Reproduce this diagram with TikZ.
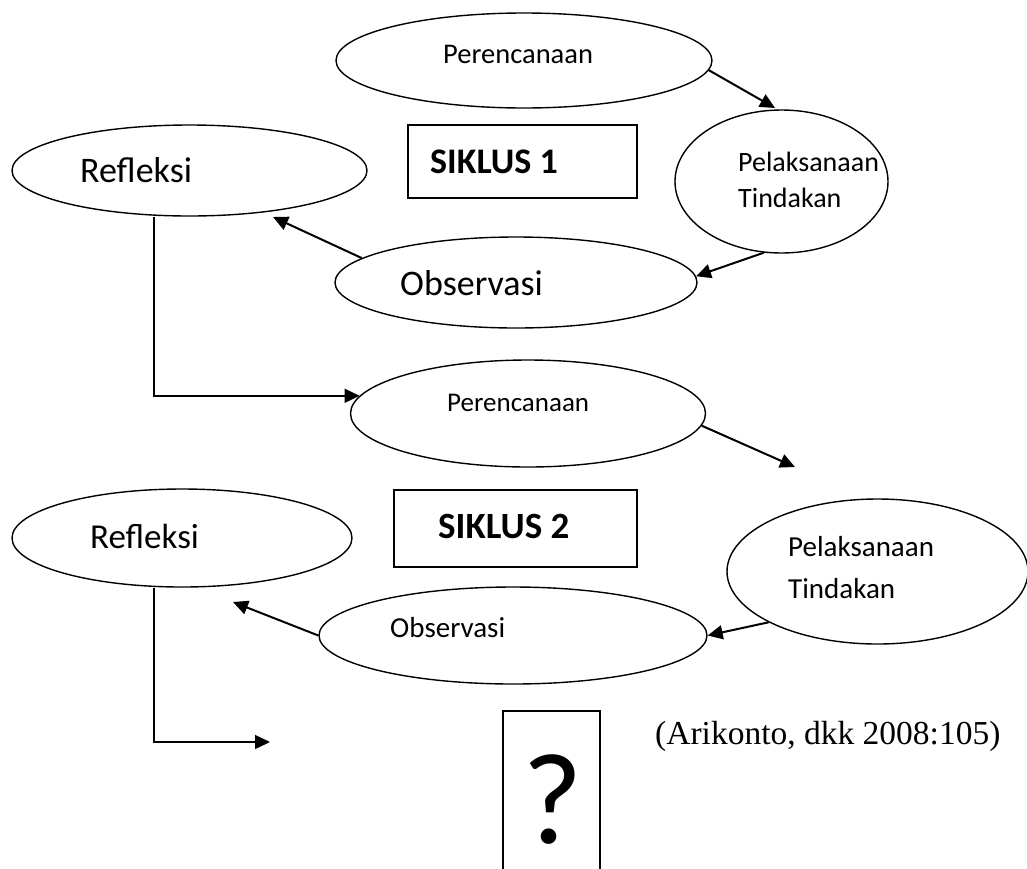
\documentclass[tikz,border=0pt]{standalone}
\usepackage{fontspec}
\setmainfont{Carlito}
\newfontfamily\citefont{Liberation Serif}
\usetikzlibrary{shapes.geometric,arrows.meta,calc}
\begin{document}
\begin{tikzpicture}[x=1pt,y=-1pt,
  oval/.style={draw,ellipse,line width=1.4pt,inner sep=0pt},
  box/.style={draw,rectangle,line width=1.4pt,inner sep=0pt},
  lbl/.style={anchor=base west,inner sep=0pt},
  arr/.style={line width=2pt,-{Triangle[length=15pt,width=14pt]}},
  elbow/.style={line width=1.4pt,-{Triangle[length=15pt,width=14pt]}},
]
\useasboundingbox (0,0) rectangle (1027,868);
\fill[white] (0,0) rectangle (1027,868);
\clip (0,0) rectangle (1027,868);

% ellipses
\node[oval,minimum width=376pt,minimum height=95pt] (per1) at (524,60.5) {};
\node[oval,minimum width=355pt,minimum height=91pt] (ref1) at (189.5,170.5) {};
\node[oval,minimum width=362pt,minimum height=91pt] (obs1) at (516,282.5) {};
\node[oval,minimum width=213pt,minimum height=143pt] (pel1) at (781.5,181.5) {};
\node[oval,minimum width=355pt,minimum height=107pt] (per2) at (528,413.5) {};
\node[oval,minimum width=301pt,minimum height=145pt] (pel2) at (877.5,571.5) {};
\node[oval,minimum width=388pt,minimum height=97pt] (obs2) at (513,635.5) {};
\node[oval,minimum width=340pt,minimum height=98pt] (ref2) at (182,538) {};

% boxes
\node[box,minimum width=229pt,minimum height=73pt] (s1) at (522.5,161.5) {};
\node[box,minimum width=243pt,minimum height=77pt] (s2) at (515.5,528.5) {};
\node[box,minimum width=97pt,minimum height=179pt] (qb) at (551.5,800.5) {};

% texts
\node[lbl,font=\fontsize{28.5}{34}\selectfont] (tper1) at (443,63.3) {Perencanaan};
\node[lbl,font=\fontsize{36}{42}\selectfont] (tref1) at (80,182.7) {Refleksi};
\node[lbl,font=\bfseries\fontsize{36}{42}\selectfont] (ts1) at (430,173.3) {SIKLUS 1};
\node[lbl,font=\fontsize{28}{34}\selectfont] (tpel1a) at (738,171.7) {Pelaksanaan};
\node[lbl,font=\fontsize{28}{34}\selectfont] (tpel1b) at (738,207) {Tindakan};
\node[lbl,font=\fontsize{36}{42}\selectfont] (tobs1) at (400,295) {Observasi};
\node[lbl,font=\fontsize{27}{32}\selectfont] (tper2) at (447,411.7) {Perencanaan};
\node[lbl,font=\bfseries\fontsize{37}{42}\selectfont] (ts2) at (438,538.3) {SIKLUS 2};
\node[lbl,font=\fontsize{35}{42}\selectfont] (tref2) at (90,548.3) {Refleksi};
\node[lbl,font=\fontsize{29}{34}\selectfont] (tpel2a) at (788,556) {Pelaksanaan};
\node[lbl,font=\fontsize{29}{34}\selectfont] (tpel2b) at (788,598.3) {Tindakan};
\node[lbl,font=\fontsize{29}{34}\selectfont] (tobs2) at (390,637.3) {Observasi};
\node[anchor=base,inner sep=0pt,font=\fontsize{130}{130}\selectfont] (q) at (553,843) {?};
\node[lbl,font=\citefont\fontsize{33.5}{40}\selectfont] (cite) at (655,744) {(Arikonto, dkk 2008:105)};

% free ends
\coordinate (a1) at (775,108);
\coordinate (a3) at (273,217);
\coordinate (a5) at (795,467);
\coordinate (a7) at (233,602);
\coordinate (a8) at (270,742);

% connectors
\draw[arr] (per1.-3) -- (a1);
\draw[arr] (pel1.-104) -- (obs1.2);
\draw[arr] (obs1.171) -- (a3);
\draw[elbow] ([xshift=-35.5pt]ref1.south) |- (per2.174);
\draw[arr] (per2.-4) -- (a5);
\draw[arr] (pel2.-155) -- (obs2.0);
\draw[arr] (obs2.180) -- (a7);
\draw[elbow] ([xshift=-28pt]ref2.south) |- (a8);
\end{tikzpicture}
\end{document}
